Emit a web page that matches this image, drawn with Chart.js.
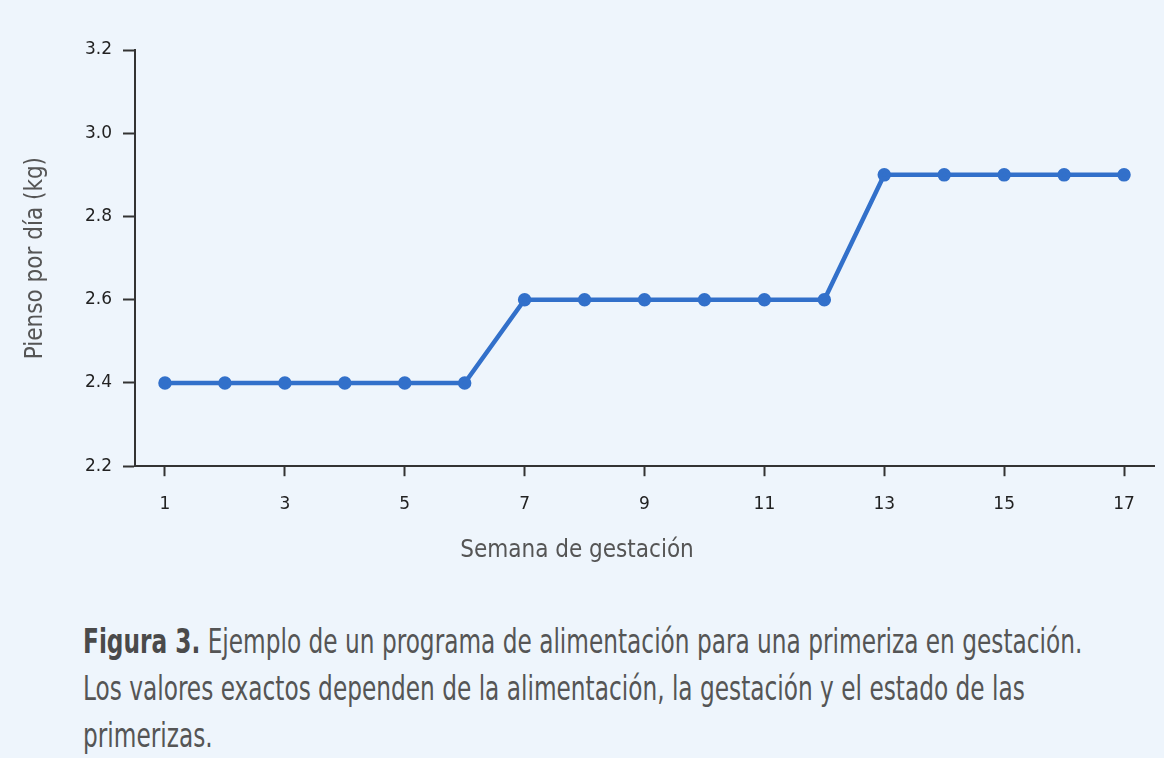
<!DOCTYPE html>
<html>
<head>
<meta charset="utf-8">
<script src="https://cdn.jsdelivr.net/npm/chart.js@4.4.0/dist/chart.umd.min.js"></script>
<style>
  html, body { margin: 0; padding: 0; background: #eef5fc; }
  #wrap { position: relative; width: 1164px; height: 758px; overflow: hidden; }
  #chartBox { position: absolute; left: 0; top: 0; width: 1164px; height: 590px; }
  #caption {
    position: absolute; left: 83px; top: 618px; width: 1400px;
    font-family: "DejaVu Sans Condensed", "Liberation Sans Narrow", sans-serif;
    font-size: 34px; line-height: 47px; color: #555;
    transform: scaleX(0.76); transform-origin: 0 0;
    white-space: nowrap;
  }
  #caption b { color: #4a4a4a; }
</style>
</head>
<body>
<div id="wrap">
  <div id="chartBox"><canvas id="feedChart" width="1164" height="590"></canvas></div>
  <div id="caption"><b>Figura 3.</b> Ejemplo de un programa de alimentación para una primeriza en gestación.<br>Los valores exactos dependen de la alimentación, la gestación y el estado de las<br>primerizas.</div>
</div>
<script>
// semanas de gestación y pienso por día (kg)
const weeks = [1, 2, 3, 4, 5, 6, 7, 8, 9, 10, 11, 12, 13, 14, 15, 16, 17];
const feedKg = [2.4, 2.4, 2.4, 2.4, 2.4, 2.4, 2.6, 2.6, 2.6, 2.6, 2.6, 2.6, 2.9, 2.9, 2.9, 2.9, 2.9];
const xTicks = [1, 3, 5, 7, 9, 11, 13, 15, 17];
const yTicks = [2.2, 2.4, 2.6, 2.8, 3.0, 3.2];

const titleFont = { family: "'DejaVu Sans Condensed', sans-serif", size: 24, weight: "normal", lineHeight: 1.2 };
const tickFont = { family: "'DejaVu Sans', Verdana, sans-serif", size: 17 };
const lineColor = "#3270ca";

const points = weeks.map((w, i) => ({ x: w, y: feedKg[i] }));

const ctx = document.getElementById("feedChart");

const myChart = new Chart(ctx, {
  type: "line",
  data: {
    datasets: [
      {
        label: "Pienso por día",
        data: points,
        borderColor: lineColor,
        backgroundColor: lineColor,
        pointBackgroundColor: lineColor,
        pointBorderColor: lineColor,
        borderWidth: 4.5,
        pointRadius: 4.5,
        tension: 0,
      },
    ],
  },
  options: {
    responsive: false,
    animation: false,
    layout: { padding: { top: 50, right: 10, left: 0, bottom: 0 } },
    scales: {
      x: {
        type: "linear",
        min: 0.5,
        max: 17.5,
        afterBuildTicks: (scale) => {
          scale.ticks = xTicks.map((v) => ({ value: v }));
        },
        afterFit: (scale) => {
          scale.height = 50;
        },
        border: { display: true, color: "#333", width: 2 },
        grid: { drawOnChartArea: false, drawTicks: true, tickLength: 10, tickColor: "#333", tickWidth: 2 },
        ticks: { font: tickFont, color: "#222", padding: 18, maxRotation: 0 },
      },
      y: {
        min: 2.2,
        max: 3.2,
        afterBuildTicks: (scale) => {
          scale.ticks = yTicks.map((v) => ({ value: v }));
        },
        afterFit: (scale) => {
          scale.width = 135;
        },
        border: { display: true, color: "#333", width: 2 },
        grid: { drawOnChartArea: false, drawTicks: true, tickLength: 12, tickColor: "#333", tickWidth: 2 },
        ticks: {
          font: tickFont,
          color: "#222",
          padding: 11,
          callback: (v) => Number(v).toFixed(1),
        },
        title: {
          display: true,
          text: "Pienso por día (kg)",
          font: titleFont,
          color: "#555",
          padding: { top: 21, bottom: 0 },
        },
      },
    },
    plugins: {
      legend: { display: false },
      tooltip: { enabled: false },
      title: {
        display: true,
        position: "bottom",
        text: "Semana de gestación",
        font: titleFont,
        color: "#555",
        padding: { top: 20, bottom: 25 },
      },
    },
  },
});
</script>
</body>
</html>
